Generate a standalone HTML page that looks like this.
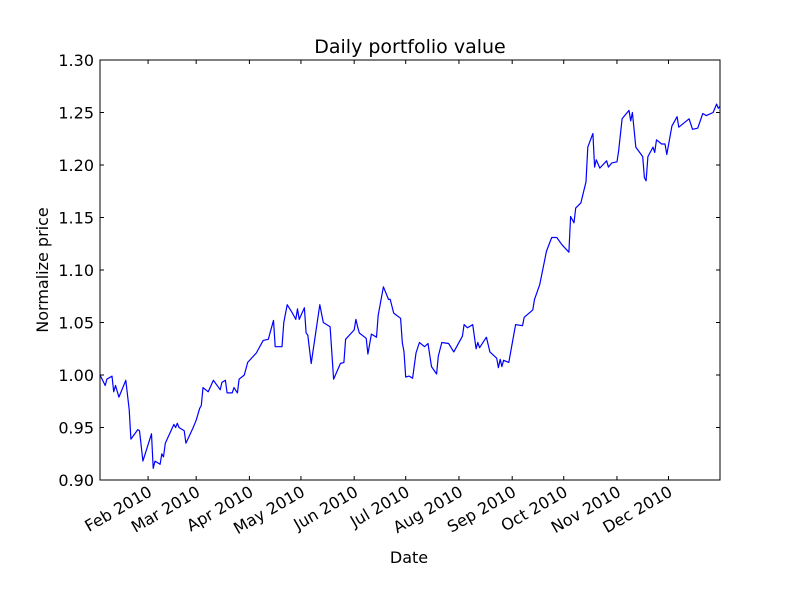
<!DOCTYPE html>
<html><head><meta charset="utf-8"><style>
body{margin:0;background:#fff;}
svg text{font-family:"DejaVu Sans","Liberation Sans",sans-serif;fill:#000;}
</style></head><body>
<svg id="chart" width="800" height="600" xmlns="http://www.w3.org/2000/svg">
<rect width="800" height="600" fill="#fff"/>
<text x="410" y="53" font-size="19" text-anchor="middle">Daily portfolio value</text>
<text x="409" y="563" font-size="16" text-anchor="middle">Date</text>
<text transform="translate(48,270) rotate(-90)" font-size="16" text-anchor="middle">Normalize price</text>
<g id="plot"></g>
<rect x="100" y="60" width="620" height="420" fill="none" stroke="#000" stroke-width="1"/>
</svg>
<script>
const days=[3,6,7,10,11,12,14,18,20,21,25,26,28,33,34,35,38,39,40,41,46,47,48,49,52,53,57,59,61,62,63,66,69,73,74,76,77,80,81,83,84,87,89,94,98,101,104,105,109,110,112,115,117,118,119,122,123,124,126,131,133,137,139,143,145,146,151,152,153,154,158,159,161,164,165,168,171,172,174,178,179,180,181,183,185,187,189,192,194,196,199,200,202,206,209,214,215,217,220,222,223,224,228,230,234,235,236,237,238,241,245,249,250,255,256,259,263,266,269,272,276,277,279,280,283,286,287,290,291,292,294,298,299,301,304,305,307,311,312,313,315,319,320,321,322,325,326,327,330,332,333,336,339,340,346,348,351,354,356,360,362,363,364];
const values=[1.000,0.990,0.996,0.999,0.984,0.990,0.979,0.995,0.967,0.939,0.948,0.947,0.918,0.944,0.911,0.918,0.915,0.925,0.922,0.935,0.953,0.950,0.954,0.950,0.947,0.935,0.949,0.957,0.968,0.971,0.988,0.984,0.995,0.986,0.993,0.995,0.983,0.983,0.988,0.983,0.996,1.000,1.012,1.021,1.033,1.034,1.052,1.027,1.027,1.050,1.067,1.059,1.053,1.063,1.053,1.064,1.040,1.038,1.011,1.067,1.050,1.046,0.996,1.011,1.012,1.034,1.043,1.053,1.046,1.040,1.035,1.020,1.039,1.036,1.057,1.084,1.072,1.072,1.059,1.054,1.031,1.022,0.998,0.999,0.997,1.021,1.031,1.027,1.030,1.008,1.001,1.018,1.031,1.030,1.022,1.037,1.048,1.045,1.048,1.025,1.031,1.026,1.036,1.022,1.016,1.007,1.015,1.008,1.014,1.012,1.048,1.047,1.055,1.062,1.072,1.086,1.118,1.131,1.131,1.124,1.117,1.151,1.145,1.159,1.164,1.184,1.217,1.230,1.198,1.205,1.197,1.204,1.198,1.202,1.203,1.214,1.244,1.252,1.242,1.250,1.217,1.208,1.188,1.185,1.208,1.217,1.212,1.224,1.220,1.220,1.210,1.237,1.246,1.236,1.244,1.234,1.235,1.249,1.247,1.250,1.258,1.254,1.256];
const yTicks=[0.90,0.95,1.00,1.05,1.10,1.15,1.20,1.25,1.30];
const xTickDays=[31,59,90,120,151,181,212,243,273,304,334];
const xTickLabels=["Feb 2010","Mar 2010","Apr 2010","May 2010","Jun 2010","Jul 2010","Aug 2010","Sep 2010","Oct 2010","Nov 2010","Dec 2010"];
const X0=100,X1=720,Y0=480,Y1=60,DMIN=3,DMAX=364,VMIN=0.9,VMAX=1.3;
function xs(d){return X0+(d-DMIN)/(DMAX-DMIN)*(X1-X0);}
function ys(v){return Y0-(v-VMIN)/(VMAX-VMIN)*(Y0-Y1);}
const NS="http://www.w3.org/2000/svg";
const g=document.getElementById('plot');
function mk(t,a){const e=document.createElementNS(NS,t);for(const k in a)e.setAttribute(k,a[k]);g.appendChild(e);return e;}
yTicks.forEach(v=>{
  const y=ys(v);
  const t1=mk('line',{x1:X0,x2:X0+4,y1:y,y2:y,stroke:'#000'});
  
  
  const t2=mk('line',{x1:X1-4,x2:X1,y1:y,y2:y,stroke:'#000'});
  
  
  const tx=mk('text',{x:X0-6,y:y+6,'font-size':16,'text-anchor':'end'});
  tx.textContent=v.toFixed(2);
  
  
});
xTickDays.forEach((d,i)=>{
  const x=xs(d);
  const t1=mk('line',{x1:x,x2:x,y1:Y0,y2:Y0-4,stroke:'#000'});
  
  
  const t2=mk('line',{x1:x,x2:x,y1:Y1,y2:Y1+4,stroke:'#000'});
  
  
  const tx=mk('text',{'font-size':16,'text-anchor':'end',transform:`translate(${x+5},${Y0+15}) rotate(-30)`});
  tx.textContent=xTickLabels[i];
  
  
});
const pts=days.map((d,i)=>xs(d).toFixed(1)+','+ys(values[i]).toFixed(1)).join(' ');
const line=mk('polyline',{points:pts,fill:'none',stroke:'#0000ff','stroke-width':1.2,'stroke-linejoin':'round'});


</script>
</body></html>
